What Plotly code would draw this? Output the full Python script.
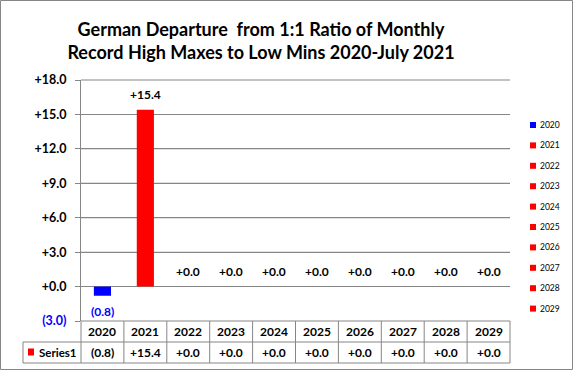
import plotly.graph_objects as go

categories = ["2020", "2021", "2022", "2023", "2024", "2025", "2026", "2027", "2028", "2029"]
values = [-0.8, 15.4, 0.0, 0.0, 0.0, 0.0, 0.0, 0.0, 0.0, 0.0]
bar_colors = ["#0000FF"] + ["#FF0000"] * 9
series_name = "Series1"
tick_vals = [-3, 0, 3, 6, 9, 12, 15, 18]

FONT = "Lato"
GRID = "#868686"

def fmt(v):
    return f"({abs(v):.1f})" if v < 0 else f"+{v:.1f}"

W_FIG, H_FIG = 573, 370
L, R, T, B = 81, 510, 80, 321
PW, PH = R - L, B - T

def px(x):
    return (x - L) / PW

def py(y):
    return (B - y) / PH

n = len(categories)
colw = PW / n

fig = go.Figure()
fig.add_trace(go.Bar(
    x=list(range(n)), y=values, marker=dict(color=bar_colors, line=dict(width=0)),
    width=0.4, showlegend=False, hoverinfo="skip",
))

annotations = []
shapes = []

# gridlines (paper-referenced, positioned through the y scale of the tick values)
y_lo, y_hi = -3, 18
for t in tick_vals:
    if t > y_lo:
        yp = (t - y_lo) / (y_hi - y_lo)
        shapes.append(dict(type="rect", xref="paper", yref="paper", x0=0, x1=1, y0=yp - 0.5 / PH, y1=yp + 0.5 / PH,
                           fillcolor=GRID, line=dict(width=0), layer="below"))

for i, v in enumerate(values):
    annotations.append(dict(
        x=i, y=v, xref="x", yref="y", text=f"<b>{fmt(v)}</b>", showarrow=False,
        yanchor="top" if v < 0 else "bottom", yshift=-6 if v < 0 else 6,
        font=dict(family=FONT, size=12, color="#0000FF" if v < 0 else "#000000"),
    ))

ticktext = []
for t in tick_vals:
    if t < 0:
        ticktext.append(f"<span style='color:#0000FF'><b>{fmt(t)}</b></span>")
    else:
        ticktext.append(f"<b>{fmt(t)}</b>")

line = dict(color=GRID, width=1)
row1_top, row1_bot, row2_bot = 321, 342, 363
tab_left = 23
shapes.append(dict(type="line", xref="paper", yref="paper", x0=px(L), x1=px(R), y0=py(row1_top), y1=py(row1_top), line=line))
shapes.append(dict(type="line", xref="paper", yref="paper", x0=px(tab_left), x1=px(R), y0=py(row1_bot), y1=py(row1_bot), line=line))
shapes.append(dict(type="line", xref="paper", yref="paper", x0=px(tab_left), x1=px(R), y0=py(row2_bot), y1=py(row2_bot), line=line))
shapes.append(dict(type="line", xref="paper", yref="paper", x0=px(tab_left), x1=px(tab_left), y0=py(row1_bot), y1=py(row2_bot), line=line))
for k in range(n + 1):
    xk = L + k * colw
    shapes.append(dict(type="line", xref="paper", yref="paper", x0=px(xk), x1=px(xk), y0=py(row1_top), y1=py(row2_bot), line=line))
for i, (c, v) in enumerate(zip(categories, values)):
    xc = px(L + (i + 0.5) * colw)
    annotations.append(dict(x=xc, y=py((row1_top + row1_bot) / 2), xref="paper", yref="paper",
                            text=f"<b>{c}</b>", showarrow=False, xanchor="center", yanchor="middle",
                            font=dict(family=FONT, size=12, color="#000")))
    annotations.append(dict(x=xc, y=py((row1_bot + row2_bot) / 2), xref="paper", yref="paper",
                            text=f"<b>{fmt(v)}</b>", showarrow=False, xanchor="center", yanchor="middle",
                            font=dict(family=FONT, size=12, color="#000")))
shapes.append(dict(type="rect", xref="paper", yref="paper", x0=px(28), x1=px(34), y0=py(348.5), y1=py(355.5),
                   fillcolor="#FF0000", line=dict(width=0)))
annotations.append(dict(x=px(37), y=py(352.5), xref="paper", yref="paper", text=f"<b>{series_name}</b>",
                        showarrow=False, xanchor="left", yanchor="middle",
                        font=dict(family=FONT, size=11.5, color="#000")))

for i, c in enumerate(categories):
    yc = 125 + i * 20.4
    shapes.append(dict(type="rect", xref="paper", yref="paper", x0=px(530), x1=px(536), y0=py(yc - 3), y1=py(yc + 3),
                       fillcolor=bar_colors[i], line=dict(width=0)))
    annotations.append(dict(x=px(538), y=py(yc), xref="paper", yref="paper", text=c, showarrow=False,
                            xanchor="left", yanchor="middle", font=dict(family=FONT, size=8.5, color="#000")))

shapes.append(dict(type="rect", xref="paper", yref="paper", x0=px(0.5), x1=px(W_FIG - 0.5), y0=py(H_FIG - 0.5), y1=py(0.5),
                   line=dict(color=GRID, width=1), fillcolor="rgba(0,0,0,0)"))

fig.update_layout(
    width=W_FIG, height=H_FIG,
    margin=dict(l=L, r=W_FIG - R, t=T, b=H_FIG - B, pad=0),
    paper_bgcolor="white", plot_bgcolor="rgba(0,0,0,0)",
    title=dict(text="<b>German Departure&nbsp; from 1:1 Ratio of Monthly<br>Record High Maxes to Low Mins 2020-July 2021</b>",
               x=261 / W_FIG, xanchor="center", xref="container",
               y=1 - 35.5 / H_FIG, yanchor="middle", yref="container",
               font=dict(family=FONT, size=18, color="#000")),
    xaxis=dict(range=[-0.5, n - 0.5], showticklabels=False, showgrid=False, zeroline=False,
               showline=False, ticks="", fixedrange=True),
    yaxis=dict(range=[y_lo, y_hi], tickmode="array", tickvals=tick_vals, ticktext=ticktext, showgrid=True,
               gridcolor=GRID, gridwidth=1,
               zeroline=False, showline=True, linecolor=GRID, linewidth=1,
               ticks="outside", ticklen=5, tickcolor=GRID, ticklabelstandoff=6,
               tickfont=dict(family=FONT, size=12.5, color="#000"), fixedrange=True),
    annotations=annotations, shapes=shapes, showlegend=False,
)

fig.write_html(
    "out.html",
    config={"displayModeBar": False},
    post_script="document.body.style.margin='0';document.body.style.overflow='hidden';",
)
